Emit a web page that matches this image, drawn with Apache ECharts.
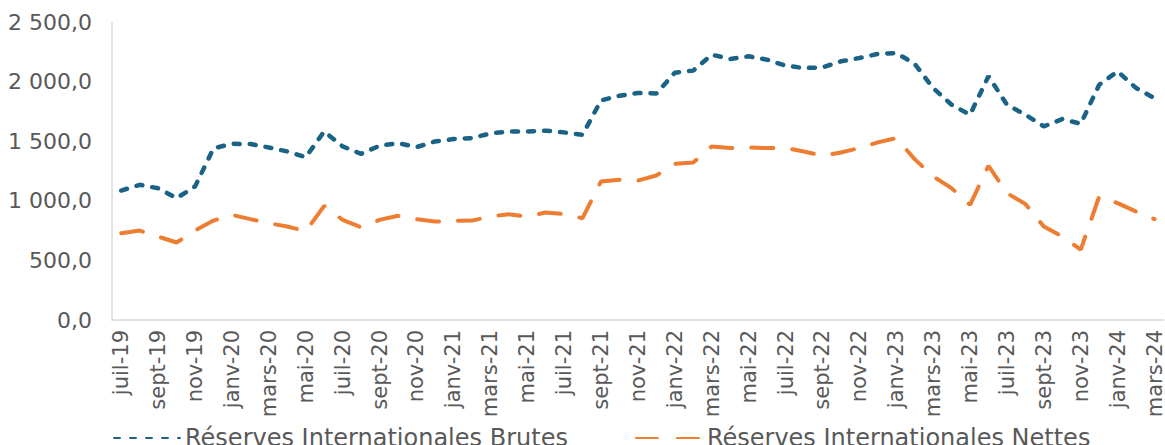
<!DOCTYPE html>
<html>
<head>
<meta charset="utf-8">
<script src="https://cdn.jsdelivr.net/npm/echarts@6/dist/echarts.min.js"></script>
<style>
  html, body { margin: 0; padding: 0; background: #fff; }
  #chart { width: 1165px; height: 445px; }
</style>
</head>
<body>
<div id="chart"></div>
<script>
"use strict";

/* ---------- data ---------- */
// months juil-19 .. mars-24
const MOIS = ["janv", "févr", "mars", "avr", "mai", "juin",
    "juil", "août", "sept", "oct", "nov", "déc"];
const START_YEAR = 2019, START_MONTH = 6, N_MONTHS = 57;

const brutes = [
    1086, 1134, 1105, 1022, 1120, 1440, 1478, 1476, 1447, 1414,
    1366, 1582, 1456, 1394, 1462, 1484, 1450, 1498, 1518, 1526,
    1565, 1582, 1582, 1588, 1574, 1554, 1842, 1882, 1904, 1900,
    2075, 2092, 2226, 2190, 2212, 2184, 2134, 2114, 2119, 2170,
    2198, 2232, 2240, 2150, 1946, 1806, 1722, 2045, 1806, 1722,
    1624, 1686, 1646, 1974, 2086, 1946, 1860
];

const nettes = [
    728, 750, 700, 650, 750, 834, 882, 846, 812, 784,
    745, 958, 840, 778, 840, 874, 846, 826, 832, 834,
    868, 888, 868, 902, 888, 854, 1162, 1176, 1170, 1212,
    1310, 1321, 1456, 1442, 1447, 1442, 1442, 1414, 1378, 1405,
    1442, 1490, 1526, 1350, 1204, 1106, 966, 1294, 1064, 974,
    784, 700, 590, 1036, 980, 910, 846
];

const NAME_B = "Réserves Internationales Brutes";
const NAME_N = "Réserves Internationales Nettes";

/* ---------- colours, font ---------- */
const C = { blue: "#1b6386", orange: "#ed7d31", text: "#595959", axis: "#d9d9d9" };
const FONT = '"DejaVu Sans", Verdana, sans-serif';

// short dash for Brutes, long dash for Nettes
const DASH_B = [6, 10], DASH_N = [22, 19];

// category labels: "juil-19", "août-19", ...
const months = [];
for (let i = 0; i < N_MONTHS; i++) {
    const m = (START_MONTH + i) % 12;
    const y = START_YEAR + Math.floor((START_MONTH + i) / 12);
    months.push(MOIS[m] + "-" + String(y).slice(2));
}

// 2500 -> "2 500,0"
function fmt(v) {
    const s = v.toFixed(1).replace(".", ",");
    return s.replace(/\B(?=(\d{3})+(?!\d))/g, " ");
}

/* ---------- chart ---------- */
// svg renderer: the canvas one drops the dash array on these long lines
const chart = echarts.init(document.getElementById("chart"), null, { renderer: "svg" });
chart.setOption({
    animation: false,
    textStyle: { fontFamily: FONT },
    grid: { left: 112, right: -4, top: 22, bottom: 125 },
    legend: {
        left: 108, top: 421, itemGap: 67,
        itemWidth: 66, itemHeight: 14,
        itemStyle: { opacity: 0 },
        textStyle: { fontSize: 24, color: C.text, fontFamily: FONT },
        data: [NAME_B, NAME_N]
    },
    xAxis: {
        type: "category", data: months, boundaryGap: true,
        axisLine: { lineStyle: { color: C.axis, width: 1.5 } },
        axisTick: { show: false },
        axisLabel: { interval: 1, rotate: 90, margin: 10, fontSize: 21, color: C.text, fontFamily: FONT }
    },
    yAxis: {
        type: "value", min: 0, max: 2500, interval: 500,
        axisLine: { show: true, lineStyle: { color: C.axis, width: 1.5 } },
        axisTick: { show: false }, splitLine: { show: false },
        axisLabel: { fontSize: 22, color: C.text, margin: 20, formatter: fmt, fontFamily: FONT }
    },
    series: [
        {
            name: NAME_B, type: "line", data: brutes, symbol: "none",
            lineStyle: { color: C.blue, width: 4.5, type: DASH_B, cap: "round" },
            itemStyle: { color: C.blue }
        },
        {
            name: NAME_N, type: "line", data: nettes, symbol: "none",
            lineStyle: { color: C.orange, width: 4, type: DASH_N, cap: "round" },
            itemStyle: { color: C.orange }
        }
    ]
});
</script>
</body>
</html>
